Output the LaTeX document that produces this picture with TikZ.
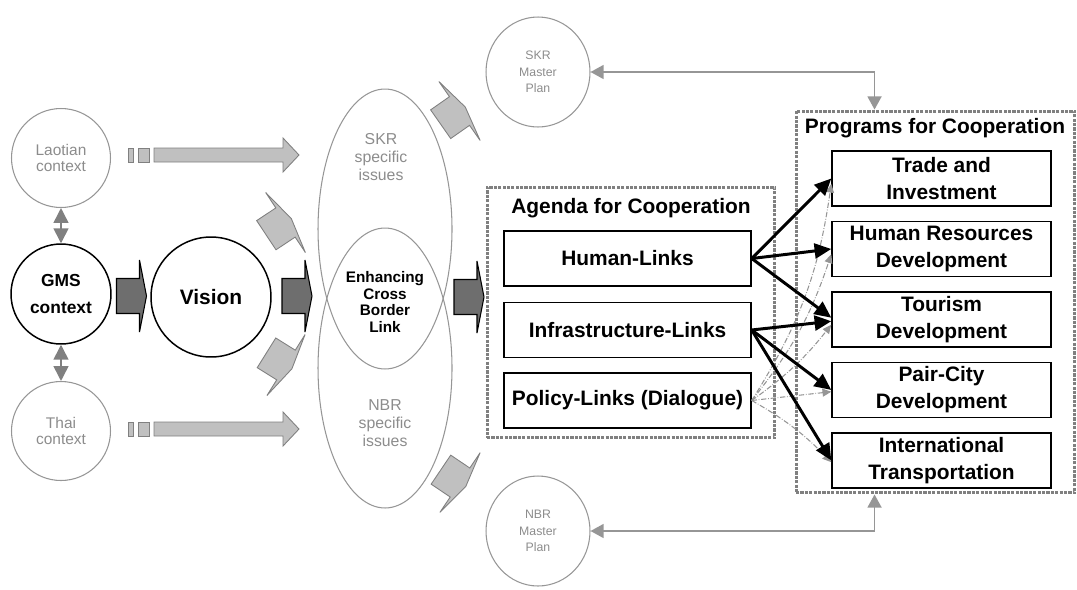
\documentclass[tikz,border=0pt]{standalone}
\usepackage{fontspec}
\setmainfont{Liberation Sans}
\usetikzlibrary{shapes.geometric, arrows.meta, positioning, calc}
\definecolor{inkgray}{RGB}{128,128,128}
\definecolor{softgray}{RGB}{150,150,150}
\definecolor{textgray}{RGB}{140,140,140}
\definecolor{fillgray}{RGB}{192,192,192}
\definecolor{darkfill}{RGB}{110,110,110}
\tikzset{
  context/.style={circle, draw=softgray, line width=0.6pt, text=textgray, inner sep=0pt,
                  minimum size=1.98cm, align=center, font=\fontsize{8.8}{9.6}\selectfont},
  core/.style={circle, draw=black, line width=0.85pt, inner sep=0pt, align=center,
               font=\bfseries\fontsize{9.9}{15.3}\selectfont},
  plan/.style={ellipse, draw=softgray, line width=0.6pt, text=textgray, inner sep=0pt,
               minimum width=2.08cm, minimum height=2.2cm, align=center,
               font=\fontsize{7}{9.3}\selectfont},
  issues/.style={ellipse, draw=softgray, line width=0.6pt, inner sep=0pt,
                 minimum width=2.68cm, minimum height=5.6cm},
  issuetext/.style={text=textgray, align=center, font=\fontsize{9}{10.2}\selectfont},
  linkbox/.style={rectangle, draw=black, line width=0.85pt, fill=white, inner sep=1pt,
                  minimum width=4.94cm, minimum height=1.1cm, align=center,
                  font=\bfseries\fontsize{11.9}{15.3}\selectfont},
  progbox/.style={rectangle, draw=black, line width=0.85pt, fill=white, inner sep=1pt,
                  minimum width=4.38cm, minimum height=1.1cm, align=center,
                  font=\bfseries\fontsize{11.9}{15.3}\selectfont},
  groupbox/.style={rectangle, draw=inkgray, line width=1.7pt, dash pattern=on 1.8pt off 0.7pt},
  grouptitle/.style={anchor=base, font=\bfseries\fontsize{11.9}{14}\selectfont},
  strong/.style={-{Triangle[length=9.5pt, width=8.5pt]}, line width=1.7pt},
  soft/.style={-{Triangle[length=5pt, width=4.5pt]}, densely dash dot, draw=softgray, line width=0.6pt},
  twoway/.style={{Triangle[length=7.5pt, width=8pt]}-{Triangle[length=7.5pt, width=8pt]},
                 draw=softgray, line width=0.9pt},
  updown/.style={{Triangle[length=8.5pt, width=8.5pt]}-{Triangle[length=8.5pt, width=8.5pt]},
                 draw=inkgray, line width=0.9pt},
  darkblock/.style={fill=darkfill, draw=black, line width=0.6pt},
  lightblock/.style={fill=fillgray, draw=inkgray, line width=0.5pt},
  pics/blockarrow/.style={code={
    \draw[#1] (-23,-17.5) -- (0,-17.5) -- (0,-36) -- (7,0) -- (0,36) -- (0,17.5) -- (-23,17.5) -- cycle;
  }},
  pics/feedarrow/.style={code={
    \draw[lightblock] (0,-7) rectangle (5,7);
    \draw[lightblock] (10,-7) rectangle (21,7);
    \draw[lightblock] (26,-7) -- (155,-7) -- (155,-17) -- (171,0) -- (155,17) -- (155,7) -- (26,7) -- cycle;
  }},
}

\begin{document}
\begin{tikzpicture}[x=0.02cm, y=-0.02cm]
  \useasboundingbox (0,0) rectangle (1077,589);

  % Context circles
  \node[context] (laos) at (61,158) {Laotian\\context};
  \node[core, minimum size=2cm] (gms) at (61,294) {GMS\\context};
  \node[context] (thai) at (61,431) {Thai\\context};
  \node[core, minimum size=2.4cm, font=\bfseries\fontsize{11.9}{14}\selectfont] (vision) at (211,297) {Vision};

  \draw[updown] (laos) -- (gms);
  \draw[updown] (gms) -- (thai);

  % Overlapping issue ellipses
  \node[issues] (skrissues) at (385,229) {};
  \node[issues] (nbrissues) at (385,368) {};
  \node[issuetext] (skrtext) at (381,157) {SKR\\specific\\issues};
  \node[issuetext] (nbrtext) at (385,423) {NBR\\specific\\issues};
  \node[align=center, font=\bfseries\fontsize{8.7}{9.6}\selectfont] (cbl) at (385,302)
    {Enhancing\\Cross\\Border\\Link};

  % Master plans
  \node[plan] (skrplan) at (538,72) {SKR\\Master\\Plan};
  \node[plan] (nbrplan) at (538,531) {NBR\\Master\\Plan};

  % Block arrows
  \pic at (128,155) {feedarrow};
  \pic at (128,429) {feedarrow};
  \pic at (139.5,296) {blockarrow=darkblock};
  \pic at (305,296) {blockarrow=darkblock};
  \pic at (477,297) {blockarrow=darkblock};
  \pic[rotate=33.5] at (285.5,222.5) {blockarrow=lightblock};
  \pic[rotate=-32] at (286,365) {blockarrow=lightblock};
  \pic[rotate=35] at (459.5,111) {blockarrow=lightblock};
  \pic[rotate=-34] at (460,482.5) {blockarrow=lightblock};

  % Agenda
  \node[groupbox, minimum width=5.76cm, minimum height=5.02cm] (agenda) at (631,312.5) {};
  \node[grouptitle] (agendatitle) at (631,213) {Agenda for Cooperation};
  \node[linkbox] (human) at (627.5,258.5) {Human-Links};
  \node[linkbox, below=0.3cm of human] (infra) {Infrastructure-Links};
  \node[linkbox, below=0.28cm of infra] (policy) {Policy-Links (Dialogue)};

  % Programs
  \node[groupbox, minimum width=5.58cm, minimum height=7.64cm] (programs) at (935.5,302) {};
  \node[grouptitle] (programstitle) at (935,133) {Programs for Cooperation};
  \node[progbox] (trade) at (941.5,178.5) {Trade and\\Investment};
  \node[progbox, below=0.28cm of trade] (hrd) {Human Resources\\Development};
  \node[progbox, below=0.28cm of hrd] (tourism) {Tourism\\Development};
  \node[progbox, below=0.28cm of tourism] (paircity) {Pair-City\\Development};
  \node[progbox, below=0.28cm of paircity] (transport) {International\\Transportation};

  \draw[twoway] (skrplan.east) -| ([xshift=1.6cm]programs.north west);
  \draw[twoway] (nbrplan.east) -| ([xshift=1.6cm]programs.south west);

  % Dialogue links
  \draw[soft] (policy.east) to[bend right=12] ([yshift=-3pt]trade.west);
  \draw[soft] (policy.east) to[bend right=10] ([yshift=-3pt]hrd.west);
  \draw[soft] (policy.east) to[bend right=8] ([yshift=-3pt]tourism.west);
  \draw[soft] (policy.east) -- ([yshift=-1pt]paircity.west);
  \draw[soft] (policy.east) to[bend left=8] ([yshift=-1pt]transport.west);

  \draw[strong] (human.east) -- (trade.west);
  \draw[strong] (human.east) -- (hrd.west);
  \draw[strong] (human.east) -- ([yshift=1pt]tourism.west);
  \draw[strong] (infra.east) -- ([yshift=-1pt]tourism.west);
  \draw[strong] (infra.east) -- (paircity.west);
  \draw[strong] (infra.east) -- (transport.west);
\end{tikzpicture}
\end{document}
